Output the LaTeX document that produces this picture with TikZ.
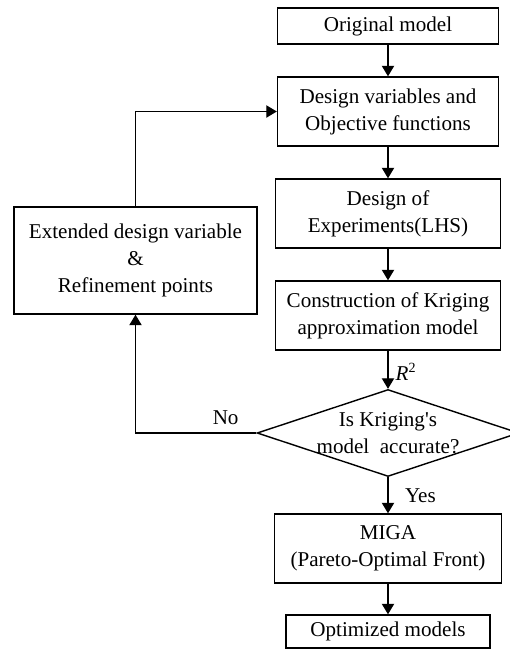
\documentclass[tikz,border=0pt]{standalone}
\usepackage{fontspec}
\setmainfont{Liberation Serif}
\usepackage{tikz}
\usetikzlibrary{arrows.meta, shapes.geometric}

\begin{document}
\begin{tikzpicture}[x=0.02cm, y=-0.02cm,
    every node/.style={font=\fontsize{12}{15.3}\selectfont},
    stage/.style={draw, line width=0.8pt, align=center, inner sep=2pt},
    decision/.style={draw, line width=0.8pt, diamond, inner sep=0pt,
        minimum width=5.24cm, minimum height=1.74cm},
    flow/.style={line width=0.8pt, -{Triangle[length=6pt, width=7pt]}}]
    \useasboundingbox (0,0) rectangle (510,650);

    % Main column of steps
    \node[stage, minimum width=4.42cm, minimum height=0.72cm] (orig) at (388,26) {Original model};
    \node[stage, minimum width=4.42cm, minimum height=1.38cm] (dvof) at (388,111.5) {Design variables and\\Objective functions};
    \node[stage, minimum width=4.50cm, minimum height=1.38cm] (doe) at (388,213.5) {Design of\\Experiments(LHS)};
    \node[stage, minimum width=4.50cm, minimum height=1.38cm] (krig) at (388,315.5) {Construction of Kriging\\approximation model};

    % Accuracy check
    \node[decision] (check) at (388,433) {};
    \node[align=center] (checktext) at (check.center) {Is Kriging\textquotesingle s\\model\ \ accurate?};

    \node[stage, minimum width=4.54cm, minimum height=1.38cm] (miga) at (388,548.5) {MIGA\\(Pareto-Optimal Front)};
    \node[stage, minimum width=4.08cm, minimum height=0.66cm] (optim) at (388,631.5) {Optimized models};

    % Refinement loop
    \node[stage, minimum width=4.86cm, minimum height=2.14cm] (ext) at (135.5,260.5) {Extended design variable\\\&\\Refinement points};

    % Draw arrows
    \draw[flow] (orig) -- (dvof);
    \draw[flow] (dvof) -- (doe);
    \draw[flow] (doe) -- (krig);
    \draw[flow] (krig) -- (check.north) node[pos=0.55, right, inner sep=4pt] {\textit{R}\textsuperscript{2}};
    \draw[flow] (check.south) -- (miga) node[midway, right, xshift=6pt] {Yes};
    \draw[flow] (miga) -- (optim);
    \draw[flow] (check.west) -| (ext.south) node[pos=0.127, above, yshift=1pt] {No};
    \draw[flow] (ext.north) |- (dvof.west);
\end{tikzpicture}
\end{document}
